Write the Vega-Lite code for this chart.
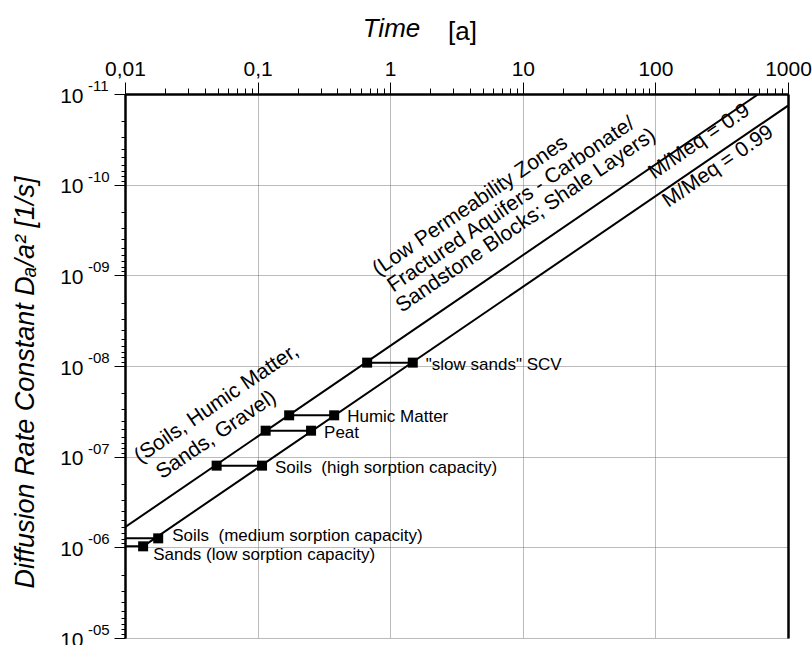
{
  "$schema": "https://vega.github.io/schema/vega-lite/v6.json",
  "width": 663,
  "height": 544,
  "autosize": {"type": "none"},
  "padding": {"left": 125, "top": 94, "right": 24, "bottom": 7},
  "background": "white",
  "config": {"font": "Liberation Sans", "view": {"stroke": null}},
  "title": {"text": "[a]", "anchor": "start", "frame": "group", "fontSize": 26, "fontWeight": "normal", "fontStyle": "normal", "color": "black", "dx": 323, "dy": 34},
  "datasets": {
    "curves": [
      {"curve": "0.9", "t": 0.01, "D": 6.0e-7},
      {"curve": "0.9", "t": 600, "D": 1.0e-11},
      {"curve": "0.99", "t": 0.0137, "D": 9.75e-7},
      {"curve": "0.99", "t": 1000, "D": 1.345e-11}
    ],
    "pairs": [
      {"name": "slow", "label": "\"slow sands\" SCV", "D": 9.18e-9, "t1": 0.67, "t2": 1.48},
      {"name": "humic", "label": "Humic Matter", "D": 3.5e-8, "t1": 0.173, "t2": 0.378},
      {"name": "peat", "label": "Peat", "D": 5.17e-8, "t1": 0.115, "t2": 0.253},
      {"name": "soilshigh", "label": "Soils\u00a0 (high sorption capacity)", "D": 1.256e-7, "t1": 0.0491, "t2": 0.108},
      {"name": "soilsmed", "label": "Soils\u00a0 (medium sorption capacity)", "D": 7.96e-7, "t1": 0.0075, "t2": 0.0178},
      {"name": "sands", "label": "Sands (low sorption capacity)", "D": 9.75e-7, "t1": 0.0062, "t2": 0.0137}
    ],
    "exps": [
      {"e": "-11", "D": 1e-11},
      {"e": "-10", "D": 1e-10},
      {"e": "-09", "D": 1e-9},
      {"e": "-08", "D": 1e-8},
      {"e": "-07", "D": 1e-7},
      {"e": "-06", "D": 1e-6},
      {"e": "-05", "D": 1e-5}
    ],
    "notes": [
      {"note": "(Soils, Humic Matter,", "t": 0.01297, "D": 1.19e-7},
      {"note": "Sands, Gravel)", "t": 0.019, "D": 1.79e-7},
      {"note": "(Low Permeability Zones", "t": 0.813, "D": 1.026e-9},
      {"note": "Fractured Aquifers - Carbonate/", "t": 1.055, "D": 1.56e-9},
      {"note": "Sandstone Blocks; Shale Layers)", "t": 1.221, "D": 2.6e-9},
      {"note": "M/Meq = 0.9", "t": 98.1, "D": 8.81e-11},
      {"note": "M/Meq = 0.99", "t": 125, "D": 1.81e-10}
    ]
  },
  "layer": [
    {
      "data": {"name": "curves"},
      "mark": {"type": "line", "color": "black", "strokeWidth": 2, "clip": true},
      "encoding": {
        "x": {
          "field": "t", "type": "quantitative",
          "scale": {"type": "log", "domain": [0.01, 1000], "nice": false},
          "axis": {
            "orient": "top",
            "values": [0.01,0.02,0.03,0.04,0.05,0.06,0.07,0.08,0.09,0.1,0.2,0.3,0.4,0.5,0.6,0.7,0.8,0.9,1,2,3,4,5,6,7,8,9,10,20,30,40,50,60,70,80,90,100,200,300,400,500,600,700,800,900,1000],
            "labelExpr": "abs(log(datum.value)/LN10 - round(log(datum.value)/LN10)) < 0.001 ? replace(toString(datum.value), '.', ',') : ''",
            "labelFontSize": 21, "labelColor": "black", "labelPadding": 3,
            "labelOverlap": false, "labelFlush": false, "labelBound": false,
            "tickSize": {"condition": {"test": "abs(log(datum.value)/LN10 - round(log(datum.value)/LN10)) < 0.001", "value": 12}, "value": 6},
            "tickColor": "black", "tickWidth": 1,
            "domainColor": "black", "domainWidth": 2.5,
            "grid": true, "gridColor": "#777777", "gridDash": [1, 1], "gridWidth": 1,
            "gridOpacity": {"condition": {"test": "abs(log(datum.value)/LN10 - round(log(datum.value)/LN10)) < 0.001", "value": 1}, "value": 0},
            "title": "Time", "titleFontSize": 26, "titleFontStyle": "italic", "titleFontWeight": "normal", "titleColor": "black",
            "titleX": 266, "titleY": -58, "titleBaseline": "alphabetic", "titleAlign": "center"
          }
        },
        "y": {
          "field": "D", "type": "quantitative",
          "scale": {"type": "log", "domain": [1e-11, 1e-5], "reverse": true, "nice": false},
          "axis": {
            "orient": "left",
            "values": [1e-11,2e-11,3e-11,4e-11,5e-11,6e-11,7e-11,8e-11,9e-11,1e-10,2e-10,3e-10,4e-10,5e-10,6e-10,7e-10,8e-10,9e-10,1e-9,2e-9,3e-9,4e-9,5e-9,6e-9,7e-9,8e-9,9e-9,1e-8,2e-8,3e-8,4e-8,5e-8,6e-8,7e-8,8e-8,9e-8,1e-7,2e-7,3e-7,4e-7,5e-7,6e-7,7e-7,8e-7,9e-7,1e-6,2e-6,3e-6,4e-6,5e-6,6e-6,7e-6,8e-6,9e-6,1e-5],
            "labelExpr": "abs(log(datum.value)/LN10 - round(log(datum.value)/LN10)) < 0.001 ? '10' : ''",
            "labelFontSize": 21, "labelColor": "black", "labelPadding": 31, "labelOffset": 2,
            "labelOverlap": false, "labelFlush": false, "labelBound": false,
            "tickSize": {"condition": {"test": "abs(log(datum.value)/LN10 - round(log(datum.value)/LN10)) < 0.001", "value": 11}, "value": 4},
            "tickColor": "black", "tickWidth": 1,
            "domainColor": "black", "domainWidth": 2.5,
            "grid": true, "gridColor": "#777777", "gridDash": [1, 1], "gridWidth": 1,
            "gridOpacity": {"condition": {"test": "abs(log(datum.value)/LN10 - round(log(datum.value)/LN10)) < 0.001", "value": 1}, "value": 0},
            "title": "Diffusion Rate Constant Dₐ/a² [1/s]", "titleFontSize": 27, "titleFontStyle": "italic", "titleFontWeight": "normal", "titleColor": "black",
            "titleX": -100, "titleY": 288, "titleAngle": 270, "titleBaseline": "middle", "titleAlign": "center"
          }
        },
        "detail": {"field": "curve"}
      }
    },
    {
      "data": {"name": "pairs"},
      "mark": {"type": "rule", "color": "black", "strokeWidth": 2, "clip": true},
      "encoding": {
        "x": {"field": "t1", "type": "quantitative"},
        "x2": {"field": "t2"},
        "y": {
          "field": "D", "type": "quantitative",
          "axis": {"orient": "right", "labels": false, "ticks": false, "grid": false, "title": null, "domainColor": "black", "domainWidth": 2.5}
        }
      }
    },
    {
      "data": {"name": "pairs"},
      "transform": [{"fold": ["t1", "t2"], "as": ["end", "tv"]}],
      "mark": {"type": "point", "shape": "square", "filled": true, "color": "black", "opacity": 1, "size": 100, "clip": true},
      "encoding": {
        "x": {"field": "tv", "type": "quantitative"},
        "y": {"field": "D", "type": "quantitative", "axis": null}
      }
    },
    {
      "data": {"name": "pairs"},
      "transform": [{"filter": "datum.name != 'sands' && datum.name != 'soilsmed'"}],
      "mark": {"type": "text", "align": "left", "baseline": "middle", "dx": 13, "dy": 2, "fontSize": 17, "color": "black"},
      "encoding": {
        "x": {"field": "t2", "type": "quantitative"},
        "y": {"field": "D", "type": "quantitative", "axis": null},
        "text": {"field": "label"}
      }
    },
    {
      "data": {"name": "pairs"},
      "transform": [{"filter": "datum.name == 'soilsmed'"}],
      "mark": {"type": "text", "align": "left", "baseline": "middle", "dx": 14, "dy": -2, "fontSize": 17, "color": "black"},
      "encoding": {
        "x": {"field": "t2", "type": "quantitative"},
        "y": {"field": "D", "type": "quantitative", "axis": null},
        "text": {"field": "label"}
      }
    },
    {
      "data": {"name": "pairs"},
      "transform": [{"filter": "datum.name == 'sands'"}],
      "mark": {"type": "text", "align": "left", "baseline": "middle", "dx": 10, "dy": 9, "fontSize": 17, "color": "black"},
      "encoding": {
        "x": {"field": "t2", "type": "quantitative"},
        "y": {"field": "D", "type": "quantitative", "axis": null},
        "text": {"field": "label"}
      }
    },
    {
      "data": {"name": "exps"},
      "mark": {"type": "text", "align": "left", "baseline": "middle", "dx": -37, "dy": -8, "fontSize": 15, "color": "black"},
      "encoding": {
        "x": {"datum": 0.01, "type": "quantitative"},
        "y": {"field": "D", "type": "quantitative", "axis": null},
        "text": {"field": "e"}
      }
    },
    {
      "data": {"name": "notes"},
      "mark": {"type": "text", "align": "left", "baseline": "alphabetic", "angle": 325.6, "fontSize": 21, "color": "black"},
      "encoding": {
        "x": {"field": "t", "type": "quantitative"},
        "y": {"field": "D", "type": "quantitative", "axis": null},
        "text": {"field": "note"}
      }
    }
  ],
  "resolve": {"axis": {"y": "independent"}}
}
